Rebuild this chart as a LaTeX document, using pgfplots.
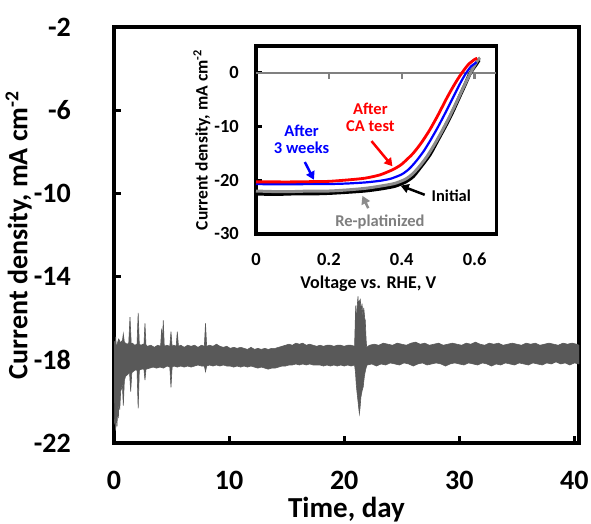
\documentclass[border=0pt]{standalone}
\usepackage{pgfplots}
\pgfplotsset{compat=1.18}
\usepackage{fontspec}
\setmainfont{Carlito}
\usetikzlibrary{arrows.meta}
\definecolor{band}{HTML}{595959}
\definecolor{zline}{HTML}{808080}
\definecolor{repl}{HTML}{8C8C8C}
\definecolor{repltext}{HTML}{7F7F7F}
\definecolor{myred}{HTML}{FF0000}
\definecolor{myblue}{HTML}{0000FF}
\begin{document}
\begin{tikzpicture}
\useasboundingbox (0pt,0pt) rectangle (591pt,524pt);
% ---------------- main axis ----------------
\begin{axis}[
  at={(114pt,81pt)}, anchor=south west,
  scale only axis, width=465pt, height=416pt,
  xmin=0, xmax=40.4, ymin=-22, ymax=-2,
  xtick={0,10,20,30,40}, ytick={-22,-18,-14,-10,-6,-2},
  tick align=inside, xtick pos=bottom, ytick pos=left,
  major tick length=7pt,
  every tick/.style={black, line width=3pt},
  axis line style={black, line width=3.5pt},
  /pgf/number format/assume math mode=true,
  tick label style={font=\fontsize{28}{30}\selectfont\bfseries},
  yticklabel style={anchor=east, inner sep=0pt, xshift=-43pt},
  xticklabel style={anchor=north, inner sep=0pt, yshift=-28pt},
  xlabel={Time, day},
  xlabel style={font=\fontsize{29}{31}\selectfont\bfseries, at={(axis description cs:0.5,0)}, anchor=north, inner sep=0pt, yshift=-54pt},
  ylabel={Current density, mA cm\textsuperscript{-2}},
  ylabel style={font=\fontsize{28}{30}\selectfont\bfseries, at={(axis description cs:-0.205,0.5)}, anchor=center, inner sep=0pt},
  clip=true,
]
\addplot[draw=band, fill=band, line width=0.6pt] coordinates {
(0,-17.6)(0.05,-17.1)(0.1,-17.5)(0.15,-16.9)(0.2,-17.4)(0.3,-17.2)(0.4,-17.0)(0.46,-17.05)(0.55,-17.2)(0.65,-17.1)(0.72,-17.15)(0.81,-16.75)(0.9,-17.15)
(1.0,-17.2)(1.15,-17.25)(1.28,-17.2)(1.39,-15.95)(1.5,-17.25)(1.6,-17.2)(1.8,-17.3)(2.0,-17.25)(2.1,-15.75)(2.2,-17.25)(2.35,-17.3)(2.5,-17.25)(2.6,-17.3)(2.69,-16.25)(2.78,-17.3)(2.9,-17.35)
(3.2,-17.3)(3.5,-17.4)(3.8,-17.3)(4.05,-17.35)(4.14,-16.5)(4.2,-17.3)(4.28,-16.1)(4.37,-17.35)(4.6,-17.3)(4.85,-17.35)(4.95,-16.65)(5.05,-17.35)
(5.2,-17.3)(5.4,-17.35)(5.5,-16.65)(5.6,-17.35)(5.8,-17.3)(6.1,-17.4)(6.4,-17.3)(6.7,-17.35)(7.0,-17.3)(7.3,-17.4)(7.6,-17.3)(7.85,-17.35)(7.95,-16.25)(8.05,-17.35)
(8.3,-17.3)(8.6,-17.35)(8.9,-17.25)(9.2,-17.35)(9.5,-17.4)(9.8,-17.35)(10.1,-17.45)(10.4,-17.4)(10.7,-17.45)(11.0,-17.4)(11.3,-17.45)(11.6,-17.5)(11.9,-17.4)
(12.2,-17.5)(12.5,-17.45)(12.8,-17.5)(13.1,-17.45)(13.4,-17.5)(13.7,-17.45)(14.0,-17.45)(14.3,-17.4)(14.6,-17.35)(14.9,-17.3)(15.2,-17.25)(15.5,-17.3)(15.8,-17.2)
(16.1,-17.25)(16.4,-17.2)(16.7,-17.3)(17.0,-17.25)(17.3,-17.3)(17.6,-17.35)(17.9,-17.3)(18.2,-17.35)(18.5,-17.3)(18.8,-17.3)(19.1,-17.35)(19.4,-17.3)(19.7,-17.3)
(20.0,-17.35)(20.3,-17.3)(20.6,-17.3)(20.9,-17.35)(21.0,-15.4)(21.05,-16.2)(21.12,-15.5)(21.2,-14.95)(21.25,-15.6)(21.3,-15.2)(21.4,-15.1)(21.47,-15.7)(21.55,-15.3)
(21.62,-15.9)(21.7,-15.5)(21.78,-16.0)(21.83,-16.1)(21.9,-17.0)(21.95,-17.4)(22.2,-17.3)(22.6,-17.25)(23.0,-17.3)(23.4,-17.2)(23.8,-17.25)(24.2,-17.3)(24.6,-17.2)
(25.0,-17.25)(25.4,-17.3)(25.8,-17.2)(26.2,-17.15)(26.6,-17.25)(27.0,-17.2)(27.4,-17.3)(27.8,-17.25)(28.2,-17.2)(28.6,-17.3)(29.0,-17.25)(29.4,-17.2)(29.8,-17.25)
(30.2,-17.3)(30.6,-17.2)(31.0,-17.25)(31.4,-17.15)(31.8,-17.25)(32.2,-17.3)(32.6,-17.2)(33.0,-17.25)(33.4,-17.2)(33.8,-17.3)(34.2,-17.25)(34.6,-17.2)(35.0,-17.25)
(35.4,-17.3)(35.8,-17.2)(36.2,-17.25)(36.6,-17.2)(37.0,-17.3)(37.4,-17.25)(37.8,-17.2)(38.2,-17.25)(38.6,-17.3)(39.0,-17.2)(39.4,-17.25)(39.8,-17.2)(40.2,-17.25)(40.4,-17.3)
(40.4,-18.2)(40.0,-18.15)(39.6,-18.25)(39.2,-18.15)(38.8,-18.2)(38.4,-18.1)(38.0,-18.2)(37.6,-18.15)(37.2,-18.25)(36.8,-18.2)(36.4,-18.15)(36.0,-18.25)(35.6,-18.2)
(35.2,-18.15)(34.8,-18.25)(34.4,-18.2)(34.0,-18.15)(33.6,-18.25)(33.2,-18.2)(32.8,-18.3)(32.4,-18.2)(32.0,-18.15)(31.6,-18.25)(31.2,-18.2)(30.8,-18.15)(30.4,-18.25)
(30.0,-18.2)(29.6,-18.15)(29.2,-18.2)(28.8,-18.3)(28.4,-18.2)(28.0,-18.15)(27.6,-18.2)(27.2,-18.25)(26.8,-18.15)(26.4,-18.2)(26.0,-18.3)(25.6,-18.2)(25.2,-18.15)
(24.8,-18.25)(24.4,-18.2)(24.0,-18.15)(23.6,-18.25)(23.2,-18.2)(22.8,-18.3)(22.4,-18.2)(22.0,-18.25)(21.95,-18.3)(21.85,-18.5)(21.75,-18.8)(21.65,-19.3)(21.55,-19.5)
(21.45,-19.8)(21.38,-20.3)(21.32,-20.6)(21.28,-20.4)(21.2,-20.0)(21.12,-19.6)(21.05,-19.2)(20.98,-18.6)(20.9,-18.25)(20.6,-18.3)(20.3,-18.25)(20.0,-18.3)(19.7,-18.25)
(19.4,-18.3)(19.1,-18.25)(18.8,-18.3)(18.5,-18.25)(18.2,-18.3)(17.9,-18.25)(17.6,-18.25)(17.3,-18.25)(17.0,-18.2)(16.7,-18.25)(16.4,-18.2)(16.1,-18.25)(15.8,-18.2)
(15.5,-18.25)(15.2,-18.25)(14.9,-18.3)(14.6,-18.3)(14.3,-18.35)(14.0,-18.4)(13.7,-18.4)(13.4,-18.45)(13.1,-18.4)(12.8,-18.35)(12.5,-18.4)(12.2,-18.35)(11.9,-18.3)
(11.6,-18.35)(11.3,-18.3)(11.0,-18.35)(10.7,-18.3)(10.4,-18.35)(10.1,-18.3)(9.8,-18.3)(9.5,-18.25)(9.2,-18.3)(8.9,-18.25)(8.6,-18.3)(8.3,-18.25)(8.05,-18.3)
(7.95,-18.57)(7.85,-18.3)(7.6,-18.3)(7.3,-18.25)(7.0,-18.3)(6.7,-18.35)(6.4,-18.3)(6.1,-18.35)(5.8,-18.3)(5.5,-18.35)(5.2,-18.3)(5.05,-18.35)(4.95,-19.32)(4.85,-18.35)
(4.6,-18.3)(4.3,-18.4)(4.0,-18.35)(3.7,-18.4)(3.4,-18.35)(3.1,-18.4)(2.8,-18.45)(2.78,-18.45)(2.69,-18.97)(2.6,-18.45)(2.4,-18.45)(2.2,-18.5)(2.1,-20.33)(2.0,-18.5)
(1.8,-18.5)(1.6,-18.6)(1.55,-18.6)(1.45,-19.53)(1.35,-18.6)(1.2,-18.7)(1.0,-18.8)(0.9,-19.0)(0.81,-20.2)(0.72,-19.1)(0.65,-19.4)(0.58,-19.5)(0.5,-20.4)(0.44,-19.8)
(0.38,-20.8)(0.32,-20.3)(0.26,-21.2)(0.2,-20.6)(0.14,-21.4)(0.09,-20.9)(0.04,-21.0)(0,-19.0)
} -- cycle;
\end{axis}
% ---------------- inset axis ----------------
\begin{axis}[
  at={(256pt,290pt)}, anchor=south west,
  scale only axis, width=240.5pt, height=188pt,
  xmin=0, xmax=0.66, ymin=-30, ymax=5,
  xtick={0,0.2,0.4,0.6}, xticklabels={0,0.2,0.4,0.6},
  ytick={-30,-20,-10,0},
  tick align=inside, xtick pos=bottom, ytick pos=left,
  major tick length=6pt,
  xtick style={draw=none},
  ytick style={black, line width=3pt},
  axis line style={black, line width=3.5pt},
  axis background/.style={fill=white},
  /pgf/number format/assume math mode=true,
  tick label style={font=\fontsize{18.5}{20}\selectfont\bfseries},
  yticklabel style={anchor=east, inner sep=0pt, xshift=-17pt},
  xticklabel style={anchor=north, inner sep=0pt, yshift=-19pt},
  xlabel={Voltage vs. RHE, V},
  xlabel style={font=\fontsize{18}{20}\selectfont\bfseries, at={(axis description cs:0.5,0)}, anchor=north, inner sep=0pt, yshift=-42pt, xshift=-8pt},
  ylabel={Current density, mA cm\textsuperscript{-2}},
  ylabel style={font=\fontsize{17.5}{19}\selectfont\bfseries, at={(axis description cs:-0.225,0.5)}, anchor=center, inner sep=0pt},
  clip=false,
]
\addplot[zline, line width=2.5pt] coordinates {(0,0)(0.66,0)};
\addplot[zline, line width=2.5pt] coordinates {(0.2,0)(0.2,-1.2)};
\addplot[zline, line width=2.5pt] coordinates {(0.4,0)(0.4,-1.2)};
\addplot[zline, line width=2.5pt] coordinates {(0.6,0)(0.6,-1.2)};
% Initial
\addplot[black, line width=3.5pt, smooth, tension=0.4] coordinates {
(0,-22.5)(0.05,-22.6)(0.1,-22.5)(0.15,-22.5)(0.2,-22.4)(0.25,-22.2)(0.3,-21.95)(0.34,-21.6)(0.38,-21.1)(0.41,-20.3)(0.431,-19.3)(0.45,-17.7)(0.477,-15.25)(0.50,-12.4)(0.522,-9.65)(0.54,-7.2)(0.559,-4.37)(0.575,-2.0)(0.586,-0.3)(0.596,0.8)(0.604,1.55)(0.612,2.4)
};
% Re-platinized
\addplot[repl, line width=3pt, smooth, tension=0.4] coordinates {
(0,-22.0)(0.05,-22.1)(0.1,-22.1)(0.15,-22.0)(0.2,-22.0)(0.25,-21.8)(0.3,-21.5)(0.34,-21.1)(0.38,-20.6)(0.41,-19.8)(0.43,-18.8)(0.45,-17.3)(0.47,-15.5)(0.49,-13.3)(0.51,-10.9)(0.53,-8.3)(0.55,-5.5)(0.57,-2.6)(0.585,-0.5)(0.60,1.4)(0.61,2.5)(0.615,2.8)
};
% After 3 weeks
\addplot[myblue, line width=2.2pt, smooth, tension=0.4] coordinates {
(0,-20.7)(0.05,-20.75)(0.1,-20.75)(0.15,-20.7)(0.2,-20.7)(0.25,-20.6)(0.3,-20.4)(0.34,-20.1)(0.37,-19.7)(0.40,-18.9)(0.42,-17.9)(0.44,-16.4)(0.46,-14.6)(0.48,-12.4)(0.50,-10.0)(0.52,-7.4)(0.54,-4.7)(0.56,-2.0)(0.575,-0.2)(0.59,1.2)(0.60,1.7)(0.605,2.0)
};
% After CA test
\addplot[myred, line width=2.8pt, smooth, tension=0.4] coordinates {
(0,-20.3)(0.05,-20.3)(0.1,-20.3)(0.15,-20.25)(0.2,-20.2)(0.258,-19.9)(0.3,-19.6)(0.34,-19.0)(0.376,-18.0)(0.40,-17.0)(0.431,-15.0)(0.455,-12.9)(0.477,-10.6)(0.50,-7.8)(0.522,-4.9)(0.54,-2.7)(0.559,-0.6)(0.582,1.5)(0.60,2.5)(0.607,2.7)
};
\node[font=\fontsize{16.5}{17}\selectfont\bfseries, text=myred, align=center] at (axis cs:0.314,-8.3) {After\\CA test};
\node[font=\fontsize{16.5}{17}\selectfont\bfseries, text=myblue, align=center] at (axis cs:0.125,-12.4) {After\\3 weeks};
\node[font=\fontsize{16.5}{17}\selectfont\bfseries, text=black] at (axis cs:0.536,-22.9) {Initial};
\node[font=\fontsize{16.5}{17}\selectfont\bfseries, text=repltext] at (axis cs:0.34,-27.7) {Re-platinized};
\draw[myred, line width=2.5pt, -{Triangle[length=8pt,width=9pt]}] (axis cs:0.317,-12.7) -- (axis cs:0.3745,-17.4);
\draw[myblue, line width=2.5pt, -{Triangle[length=8pt,width=9pt]}] (axis cs:0.134,-16.6) -- (axis cs:0.159,-19.9);
\draw[black, line width=2.5pt, -{Triangle[length=8pt,width=9pt]}] (axis cs:0.463,-22.7) -- (axis cs:0.397,-21.0);
\draw[repl, line width=2.5pt, -{Triangle[length=8pt,width=9pt]}] (axis cs:0.308,-25.2) -- (axis cs:0.292,-22.9);
\end{axis}
\end{tikzpicture}
\end{document}
